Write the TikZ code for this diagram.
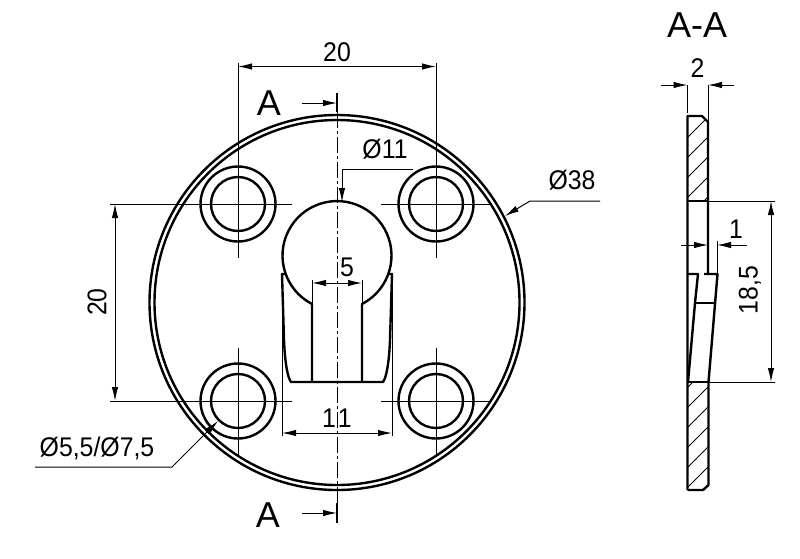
\documentclass[tikz,border=0pt]{standalone}
\usepackage{fontspec}
\setmainfont{Liberation Sans}
\newfontfamily\dimfont[FakeStretch=0.92]{Liberation Sans}
\usetikzlibrary{arrows.meta}
\tikzset{
    edge/.style={line width=2.4pt, line join=round},
    thin line/.style={line width=1pt},
    dim/.style={thin line, {Latex[length=14pt,width=6.5pt]}-{Latex[length=14pt,width=6.5pt]}},
    leader/.style={thin line, -{Latex[length=14pt,width=6.5pt]}},
    centre/.style={thin line, dash pattern=on 16pt off 3pt on 3pt off 3pt},
    hatching/.style={line width=0.8pt},
    dimtext/.style={font=\dimfont\fontsize{27}{27}\selectfont, inner sep=0pt},
    secttext/.style={font=\fontsize{36}{36}\selectfont, inner sep=0pt}
}
\begin{document}
\begin{tikzpicture}[x=1pt, y=-1pt]
            \useasboundingbox (0, 0) rectangle (800, 558);
            % Plate outline
            \draw[edge] (337, 302.5) circle (187.5);
            \draw[edge] (337, 302.5) circle (182.5);
            % Mounting holes
            \foreach \hx in {238, 436}
                \foreach \hy in {204, 401} {
                    \draw[edge] (\hx, \hy) circle (27);
                    \draw[edge] (\hx, \hy) circle (37.5);
                }
            % Keyhole
            \draw[edge] (312, 382) -- (312, 304)
                 arc[start angle=117.3, delta angle=305.4, radius=54.5] -- (362, 382);
            \draw[edge] (286, 274) -- (282, 274) -- (284, 340) .. controls (285, 365) and (288, 378) .. (291, 382)
                 -- (383, 382) .. controls (386, 378) and (389, 365) .. (390, 340) -- (392, 274) -- (388, 274);
            % Centre lines
            \draw[centre] (337, 112) -- (337, 503);
            \draw[thin line] (238, 63) -- (238, 258);
            \draw[thin line] (436, 63) -- (436, 258);
            \draw[thin line] (238, 348) -- (238, 455);
            \draw[thin line] (436, 348) -- (436, 455);
            \draw[thin line] (110, 204) -- (292, 204);
            \draw[thin line] (381, 204) -- (490, 204);
            \draw[thin line] (110, 401) -- (292, 401);
            \draw[thin line] (381, 401) -- (490, 401);
            % Section marks
            \draw[line width=1.6pt] (337, 93) -- (337, 112);
            \draw[line width=1.6pt] (337, 503) -- (337, 523);
            \draw[leader] (302, 103) -- (337, 103);
            \draw[leader] (302, 513) -- (337, 513);
            \node[secttext] (markTop) at (269, 103) {A};
            \node[secttext] (markBottom) at (268, 515) {A};
            % Dimensions of the front view
            \draw[dim] (238, 66.5) -- (436, 66.5);
            \node[dimtext] (dimTop) at (337, 52) {20};
            \draw[dim] (115, 204) -- (115, 401);
            \node[dimtext, rotate=90] (dimLeft) at (97, 302) {20};
            \draw[thin line] (312, 280) -- (312, 304);
            \draw[thin line] (362, 280) -- (362, 304);
            \draw[dim] (312, 283) -- (362, 283);
            \node[dimtext] (dimSlot) at (347, 267) {5};
            \draw[thin line] (282, 274) -- (282, 436);
            \draw[thin line] (392, 274) -- (392, 436);
            \draw[dim] (282, 433) -- (392, 433);
            \node[dimtext] (dimWidth) at (337, 418) {1\kern2pt 1};
            % Leaders
            \draw[leader] (413, 169) -- (342, 169) -- (342, 202);
            \node[dimtext] (dimBore) at (385, 149) {Ø11};
            \draw[leader] (600, 201) -- (530, 201) -- (505, 216);
            \node[dimtext] (dimPlate) at (572, 180) {Ø38};
            \draw[leader] (35, 467) -- (172, 467) -- (218, 421);
            \node[dimtext] (dimHoles) at (97, 448) {Ø5,5/Ø7,5};
            % Section view: hatching
            \begin{scope}
                \clip (687.5, 116) -- (702, 116) -- (708, 122) -- (708, 201) -- (687.5, 201) -- cycle;
                \foreach \hy in {125, 145, ..., 225}
                    \draw[hatching] (680, \hy) -- (720, \hy-40);
            \end{scope}
            \begin{scope}
                \clip (687.5, 382) -- (708, 382) -- (708, 485) -- (703, 490) -- (687.5, 490) -- cycle;
                \foreach \hy in {395, 415, ..., 515}
                    \draw[hatching] (680, \hy) -- (720, \hy-40);
            \end{scope}
            % Section view: outline
            \draw[edge] (687.5, 490) -- (687.5, 116) -- (702, 116) -- (708, 122) -- (708, 274);
            \draw[edge] (687.5, 490) -- (703, 490) -- (708.5, 485) -- (708.5, 382);
            \draw[edge] (687.5, 201) -- (708, 201);
            \draw[edge] (687.5, 382) -- (708.5, 382);
            \draw[edge] (687.5, 274) -- (698, 274) -- (695, 303) -- (688, 382);
            \draw[edge] (704, 274) -- (717.5, 274) -- (708.5, 382);
            \draw[edge] (695, 303) -- (713.5, 303);
            % Section view: dimensions
            \node[secttext] (sectName) at (697, 25) {A-A};
            \draw[thin line] (687.5, 85) -- (687.5, 113);
            \draw[thin line] (708, 85) -- (708, 122);
            \draw[leader] (661, 85) -- (687.5, 85);
            \draw[leader] (734, 85) -- (708, 85);
            \node[dimtext] (dimThick) at (697.5, 68) {2};
            \draw[thin line] (717, 241) -- (717, 274);
            \draw[leader] (681, 245) -- (708, 245);
            \draw[leader] (747, 245) -- (717, 245);
            \node[dimtext] (dimStep) at (736, 229) {1};
            \draw[thin line] (708, 201) -- (775, 201);
            \draw[thin line] (708, 382) -- (775, 382);
            \draw[dim] (771, 201) -- (771, 382);
            \node[dimtext, rotate=90] (dimHeight) at (750, 290) {18,5};
        \end{tikzpicture}
\end{document}
